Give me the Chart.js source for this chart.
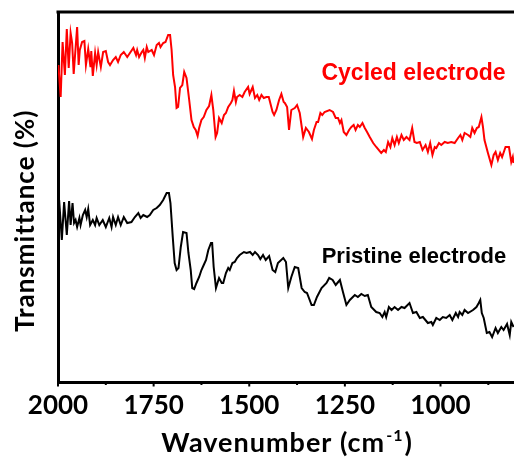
<!DOCTYPE html>
<html><head><meta charset="utf-8">
<script src="https://cdn.jsdelivr.net/npm/chart.js@4.4.1/dist/chart.umd.min.js"></script>
<style>
html,body{margin:0;padding:0;overflow:hidden;background:#fff;width:514px;height:461px}
#wrap{position:relative;width:530px;height:461px}
</style>
</head><body><div id="wrap"><canvas id="c" width="530" height="461"></canvas></div>
<script>
const cycledX = [1999,1993,1988,1982,1977,1972,1967,1963,1959,1950,
1946,1943,1937,1931,1927,1921,1915,1913,1909,1903,
1899,1895,1888,1882,1875,1869,1864,1856,1849,1843,
1836,1828,1819,1812,1803,1796,1793,1788,1781,1777,
1773,1768,1764,1755,1749,1742,1736,1732,1725,1719,
1712,1707,1703,1699,1694,1690,1686,1681,1675,1670,
1664,1657,1651,1645,1640,1635,1631,1625,1619,1612,
1605,1599,1594,1588,1584,1579,1572,1566,1561,1555,
1548,1544,1540,1535,1532,1525,1518,1512,1503,1499,
1491,1485,1479,1474,1468,1462,1455,1449,1439,1435,
1429,1422,1416,1410,1407,1401,1396,1390,1381,1375,
1368,1359,1352,1344,1336,1331,1324,1320,1314,1309,
1303,1290,1281,1274,1268,1263,1259,1253,1246,1239,
1233,1227,1222,1216,1211,1204,1198,1192,1185,1176,
1168,1155,1148,1143,1137,1131,1126,1120,1114,1109,
1102,1096,1089,1081,1074,1068,1062,1054,1047,1039,
1033,1027,1021,1015,1011,1004,998,989,981,972,
963,954,948,943,937,928,922,917,911,905,
900,893,889,885,876,867,861,856,850,844,
839,830,821,815,811,809];
const cycledY = [318,286,341,308,354,315,350,340,309,356,
318,333,341,342,318,334,316,332,307,330,
318,331,316,331,332,321,318,323,326,321,
328,331,326,330,335,328,333,326,331,333,
325,336,331,333,328,338,340,336,340,341,
348,348,333,308,296,275,276,295,298,311,
305,283,263,256,253,247,255,263,266,273,
277,288,273,246,250,265,260,268,270,276,
280,283,292,281,286,288,286,291,296,289,
296,285,288,283,288,285,286,286,271,268,
273,283,289,281,280,276,253,273,275,278,
270,246,255,251,244,253,261,261,270,268,
271,273,271,265,265,260,263,251,248,253,
256,258,253,258,256,260,255,251,246,240,
236,230,233,231,241,236,245,238,246,240,
248,243,246,243,255,241,240,241,233,238,
231,240,228,236,235,240,238,241,240,241,
240,245,248,243,250,248,246,255,250,255,
256,266,256,243,230,218,228,231,223,230,
226,236,236,221,226,220];
const pristineX = [1997,1990,1984,1977,1971,1967,1962,1958,1954,1950,
1944,1941,1935,1929,1925,1921,1916,1909,1903,1899,
1892,1883,1875,1866,1860,1856,1849,1843,1836,1828,
1819,1808,1799,1790,1784,1777,1767,1760,1751,1742,
1734,1725,1716,1710,1706,1700,1695,1690,1685,1679,
1673,1664,1659,1653,1649,1644,1638,1631,1625,1619,
1613,1607,1600,1597,1593,1587,1583,1579,1572,1568,
1561,1555,1551,1544,1538,1532,1525,1514,1507,1498,
1491,1485,1477,1471,1464,1457,1448,1439,1432,1425,
1411,1404,1398,1390,1381,1372,1363,1355,1349,1337,
1331,1323,1311,1298,1291,1282,1274,1263,1255,1246,
1237,1224,1216,1207,1198,1190,1181,1168,1159,1152,
1146,1142,1135,1128,1120,1111,1102,1094,1081,1072,
1063,1054,1046,1033,1024,1020,1011,1002,994,985,
976,969,960,954,950,943,937,928,915,906,
900,896,892,887,879,872,865,856,850,841,
835,826,819,815,809];
const pristineY = [183,143,181,148,182,158,180,160,163,156,
165,158,168,173,166,174,158,163,158,165,
158,163,156,165,156,166,158,166,158,166,
160,161,166,170,165,168,166,168,173,175,
178,183,190,190,180,146,120,113,115,136,
151,150,130,113,95,94,100,106,113,118,
123,133,140,140,116,95,100,105,100,100,
110,115,113,120,121,125,128,131,130,131,
128,131,128,124,128,123,127,113,111,120,
125,121,95,106,116,115,95,91,90,78,
78,86,95,100,105,103,98,103,91,78,
83,88,86,89,87,88,76,71,70,66,
71,66,76,73,76,73,76,75,80,70,
71,65,66,60,61,58,65,63,66,65,
68,63,70,66,71,68,73,70,73,76,
80,83,70,65,50,51,46,55,50,56,
53,59,48,61,56];
const xTickValues = [2000,1750,1500,1250,1000];
const xMinorTicks = [1875,1625,1375,1125,875];
const seriesNames = ['Cycled electrode','Pristine electrode'];
const xTitleMain = 'Wavenumber (cm';
const xTitleSup = '-1';
const xTitleEnd = ')';
const yTitle = 'Transmittance (%)';

function pts(xs, ys){ return xs.map((x,i)=>({x:x, y:ys[i]})); }
const FONT = 'Lato, "Open Sans", sans-serif';

const overlay = {
  id:'overlay',
  afterDraw(chart){
    const ctx = chart.ctx, a = chart.chartArea, x = chart.scales.x, y = chart.scales.y;
    ctx.save();
    ctx.strokeStyle = '#000'; ctx.lineWidth = 3;
    ctx.beginPath(); ctx.moveTo(a.left-1.5, a.top); ctx.lineTo(a.right+1.5, a.top); ctx.stroke();
    ctx.lineWidth = 2;
    xTickValues.forEach(v=>{ const px = x.getPixelForValue(v); ctx.beginPath(); ctx.moveTo(px, a.bottom); ctx.lineTo(px, a.bottom+4.5); ctx.stroke(); });
    xMinorTicks.forEach(v=>{ const px = x.getPixelForValue(v); ctx.beginPath(); ctx.moveTo(px, a.bottom); ctx.lineTo(px, a.bottom+3); ctx.stroke(); });
    ctx.textAlign = 'right'; ctx.textBaseline = 'alphabetic';
    ctx.fillStyle = '#ff0000';
    ctx.font = 'bold 23px "Liberation Sans", Arial, sans-serif';
    ctx.fillText(seriesNames[0], x.getPixelForValue(830), y.getPixelForValue(303));
    ctx.fillStyle = '#000';
    ctx.font = 'bold 22px "Liberation Sans", Arial, sans-serif';
    ctx.fillText(seriesNames[1], x.getPixelForValue(828), y.getPixelForValue(120));
    // x title with superscript
    ctx.textAlign = 'left';
    const big = 'bold 27px ' + FONT, small = 'bold 16px ' + FONT;
    ctx.letterSpacing = '1px';
    ctx.font = big; const w1 = ctx.measureText(xTitleMain).width, w3 = ctx.measureText(xTitleEnd).width;
    ctx.font = small; const w2 = ctx.measureText(xTitleSup).width;
    const total = w1 + w2 + w3 + 2;
    let tx = (a.left + 514)/2 + 1 - total/2; const ty = 452;
    ctx.font = big; ctx.fillText(xTitleMain, tx, ty); tx += w1 + 1;
    ctx.font = small; ctx.fillText(xTitleSup, tx, ty - 11); tx += w2 + 1;
    ctx.font = big; ctx.fillText(xTitleEnd, tx, ty);
    // y title
    ctx.translate(34, 332); ctx.rotate(-Math.PI/2);
    ctx.font = 'bold 26px ' + FONT; ctx.textAlign = 'left';
    ctx.fillText(yTitle, 0, 0);
    ctx.restore();
  }
};

new Chart(document.getElementById('c'), {
  type: 'line',
  data: { datasets: [
    { label: seriesNames[0], data: pts(cycledX, cycledY), borderColor: '#ff0000', borderWidth: 2, pointRadius: 0, tension: 0, fill: false },
    { label: seriesNames[1], data: pts(pristineX, pristineY), borderColor: '#000000', borderWidth: 2, pointRadius: 0, tension: 0, fill: false }
  ]},
  options: {
    responsive: false, animation: false,
    layout: { padding: { top: 12, right: 13, left: 0, bottom: 0 } },
    plugins: { legend: { display: false }, tooltip: { enabled: false } },
    scales: {
      x: { type: 'linear', reverse: true, min: 800, max: 2000,
        grid: { display: false, drawTicks: false },
        border: { display: true, color: '#000', width: 3 },
        afterBuildTicks(s){ s.ticks = xTickValues.map(v => ({ value: v })); },
        ticks: { autoSkip: false, maxRotation: 0, padding: 8, color: '#000',
          font: { family: FONT, size: 26, weight: 'bold' },
          callback: (v) => String(v) },
        afterFit(s){ s.height = 79; } },
      y: { type: 'linear', min: 1, max: 371,
        grid: { display: false, drawTicks: false },
        border: { display: true, color: '#000', width: 3 },
        ticks: { display: false },
        afterFit(s){ s.width = 58; } }
    }
  },
  plugins: [overlay]
});
</script>
</body></html>
